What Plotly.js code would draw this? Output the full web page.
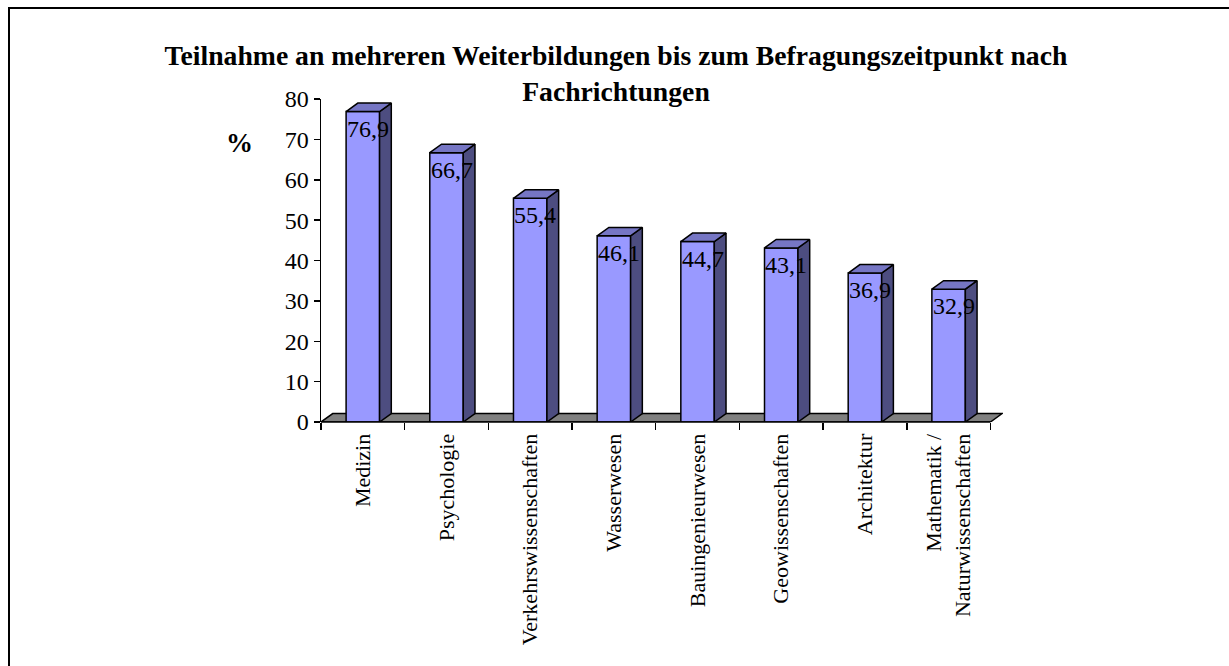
<!DOCTYPE html>
<html>
<head>
<meta charset="utf-8">
<script src="https://cdn.plot.ly/plotly-3.0.1.min.js"></script>
<style>
  html, body { margin: 0; padding: 0; background: #fff; overflow: hidden; }
  #chart { width: 1229px; height: 666px; }
  #frame { position: absolute; left: 8px; top: 7px; width: 1400px; height: 900px;
           border-top: 2px solid #000; border-left: 2px solid #000; pointer-events: none; }
</style>
</head>
<body>
<div id="chart"></div>
<div id="frame"></div>
<script>
// ---- data ----
const categories = ['Medizin', 'Psychologie', 'Verkehrswissenschaften', 'Wasserwesen',
  'Bauingenieurwesen', 'Geowissenschaften', 'Architektur', 'Mathematik /<br>Naturwissenschaften'];
const values = [76.9, 66.7, 55.4, 46.1, 44.7, 43.1, 36.9, 32.9];
const valueLabels = ['76,9', '66,7', '55,4', '46,1', '44,7', '43,1', '36,9', '32,9'];
const yTickVals = [0, 10, 20, 30, 40, 50, 60, 70, 80];
const titleText = 'Teilnahme an mehreren Weiterbildungen bis zum Befragungszeitpunkt nach<br>Fachrichtungen';
const yUnit = '%';

// ---- styling / geometry constants ----
const FONT = 'Liberation Serif, Times New Roman, serif';
const barW = 0.4;     // bar width in category units
const dx = 0.14;      // 3D depth, x (category units)
const dy = 2.1;       // 3D depth, y (value units)
const FRONT = '#9999FF', SIDE = '#4D4D80', TOP = '#7676C4', FLOOR = '#808080';
const n = categories.length;
const idx = categories.map((_, i) => i);

// side and top faces from data
const sideX = [], sideY = [], topX = [], topY = [];
values.forEach((v, i) => {
  const r = i + barW / 2, l = i - barW / 2;
  sideX.push(r, r + dx, r + dx, r, r, null);
  sideY.push(0, dy, v + dy, v, 0, null);
  topX.push(l, l + dx, r + dx, r, l, null);
  topY.push(v, v + dy, v + dy, v, v, null);
});

const traces = [
  { type: 'bar', x: idx, y: values, width: barW,
    marker: { color: FRONT, line: { color: '#000', width: 1.5 } },
    hoverinfo: 'skip', showlegend: false },
  { type: 'scatter', mode: 'lines', x: sideX, y: sideY, fill: 'toself', fillcolor: SIDE,
    line: { color: '#000', width: 1.5 }, hoverinfo: 'skip', showlegend: false },
  { type: 'scatter', mode: 'lines', x: topX, y: topY, fill: 'toself', fillcolor: TOP,
    line: { color: '#000', width: 1.5 }, hoverinfo: 'skip', showlegend: false }
];

const annotations = values.map((v, i) => ({
  x: i + 0.06, y: v, xref: 'x', yref: 'y', text: valueLabels[i], showarrow: false,
  xanchor: 'center', yanchor: 'top', yshift: -2,
  font: { family: FONT, size: 24, color: '#000' }
}));
annotations.push({
  x: -0.119, y: 0.864, xref: 'paper', yref: 'paper', text: yUnit, showarrow: false,
  xanchor: 'center', yanchor: 'middle',
  font: { family: FONT, size: 27, color: '#000', weight: 'bold' }
});

const boundaries = [];
for (let i = 0; i <= n; i++) boundaries.push(i - 0.5);

const layout = {
  width: 1229, height: 666,
  margin: { l: 321, r: 226, t: 99, b: 244 },
  paper_bgcolor: '#fff', plot_bgcolor: 'rgba(0,0,0,0)',
  showlegend: false, hovermode: false,
  title: { text: titleText, xref: 'container', yref: 'container', x: 0.5012, xanchor: 'center',
           y: 0.902, yanchor: 'top',
           font: { family: FONT, size: 27.7, color: '#000', weight: 'bold' } },
  xaxis: {
    type: 'linear', range: [-0.5, n - 0.5 + dx + 0.01], showgrid: false, zeroline: false,
    showline: false,
    tickmode: 'array', tickvals: idx, ticktext: categories, tickangle: -90,
    ticks: 'outside', ticklen: 2, tickcolor: 'rgba(0,0,0,0)',
    tickfont: { family: FONT, size: 22, color: '#000' },
    minor: { tickmode: 'array', tickvals: boundaries, ticks: 'outside', ticklen: 7,
             tickwidth: 1.5, tickcolor: '#000', showgrid: false }
  },
  yaxis: {
    range: [0, 80], tickmode: 'array', tickvals: yTickVals, showgrid: false, zeroline: false,
    showline: true, linecolor: '#000', linewidth: 1.5,
    ticks: 'outside', ticklen: 6, tickwidth: 1.5, tickcolor: '#000',
    tickfont: { family: FONT, size: 24, color: '#000' }
  },
  shapes: [
    { type: 'path', xref: 'x', yref: 'y', layer: 'below',
      path: `M ${-0.5},0 L ${n - 0.5},0 L ${n - 0.5 + dx},${dy} L ${-0.5 + dx},${dy} Z`,
      fillcolor: FLOOR, line: { color: '#000', width: 1.5 } },
    { type: 'line', xref: 'x', yref: 'paper', x0: -0.5, x1: n - 0.5, y0: 0, y1: 0,
      line: { color: '#000', width: 1.5 } }
  ],
  annotations: annotations
};

Plotly.newPlot('chart', traces, layout, { staticPlot: true, displayModeBar: false });
</script>
</body>
</html>
